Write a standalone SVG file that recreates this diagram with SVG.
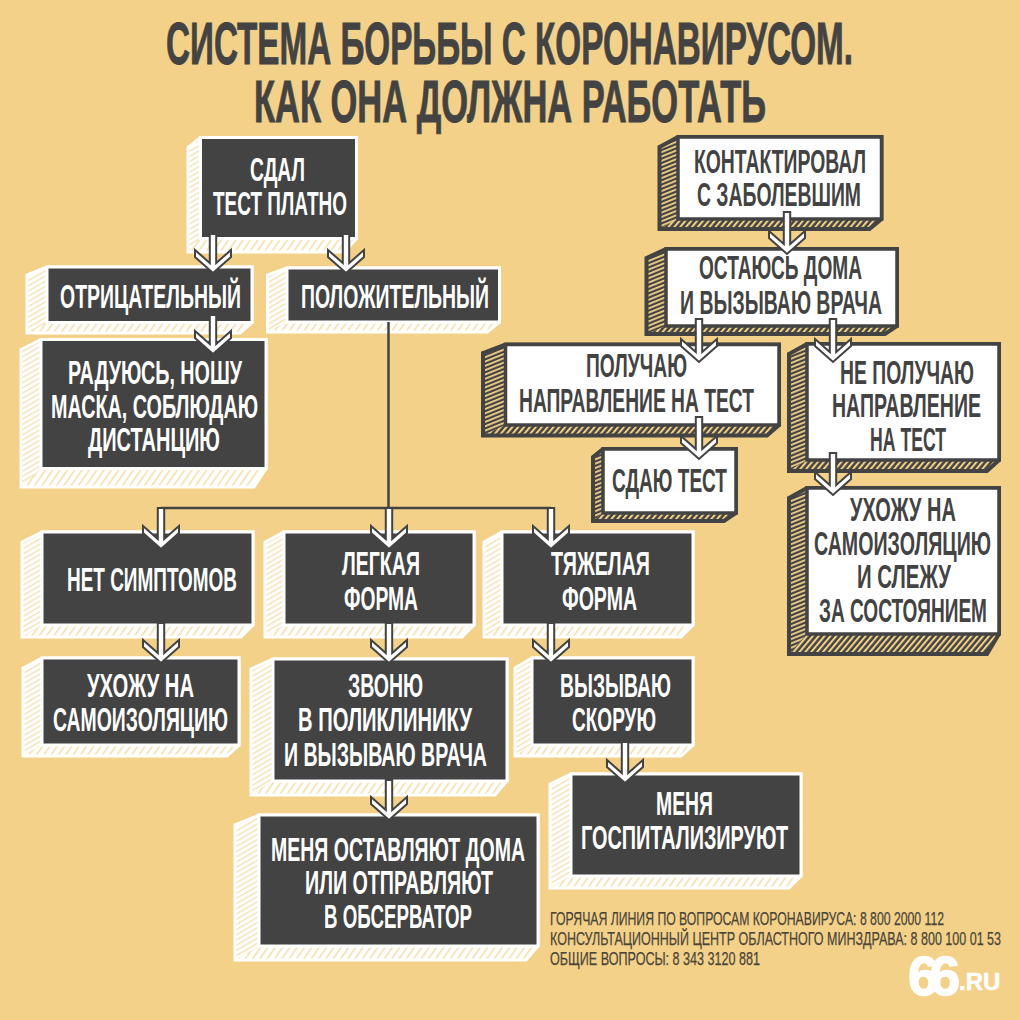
<svg xmlns="http://www.w3.org/2000/svg" width="1020" height="1020" viewBox="0 0 1020 1020">
<style>
text{font-family:"Liberation Sans Narrow","Liberation Sans",Arial,sans-serif;font-weight:700;font-size:33px}
.title{font-size:59px;fill:#434343;stroke:#434343;stroke-width:.9}
.foot{font-size:19px;font-weight:400;fill:#4a4538;stroke:#4a4538;stroke-width:.25}
.logo{font-size:55px;fill:#fff;stroke:#fff;stroke-width:1.5;letter-spacing:-9px;font-family:"Liberation Sans",Arial,sans-serif}
.logo2{font-size:24px;fill:#fff;stroke:#fff;stroke-width:.6;font-family:"Liberation Sans",Arial,sans-serif}
.dk .l{fill:url(#lw)}.dk .b{fill:url(#bw)}.dk .o{fill:none;stroke:#fff;stroke-width:3}
.dk rect{fill:#434343;stroke:#fff;stroke-width:3}.dk text{fill:#fff}
.wh .l{fill:url(#ld)}.wh .b{fill:url(#bd)}.wh .o{fill:none;stroke:#434343;stroke-width:4}
.wh rect{fill:#fff;stroke:#434343;stroke-width:3.5}.wh text{fill:#434343}
.ar{fill:#fff;stroke:#434343;stroke-width:2;stroke-linejoin:miter}
.ln{fill:none;stroke:#434343;stroke-width:2.5}
</style>
<defs>
<pattern id="ld" width="4" height="4" patternUnits="userSpaceOnUse" patternTransform="rotate(-22)"><rect width="4" height="4" fill="#434343"/><rect width="4" height="1.8" fill="#f3d189"/></pattern>
<pattern id="bd" width="4.5" height="4.5" patternUnits="userSpaceOnUse" patternTransform="rotate(-50)"><rect width="4.5" height="4.5" fill="#434343"/><rect width="4.5" height="2" fill="#f3d189"/></pattern>
<pattern id="lw" width="4.5" height="4.5" patternUnits="userSpaceOnUse" patternTransform="rotate(-30)"><rect width="4.5" height="4.5" fill="#fff"/><rect width="4.5" height="1.3" fill="#f6dfae"/></pattern>
<pattern id="bw" width="6" height="6" patternUnits="userSpaceOnUse" patternTransform="rotate(-55)"><rect width="6" height="6" fill="#fff"/><rect width="6" height="1.6" fill="#f6dfae"/></pattern>
</defs>
<rect width="1020" height="1020" fill="#f3d189"/>
<g id="title">
<text class="title" x="166" y="64" textLength="687" lengthAdjust="spacingAndGlyphs">СИСТЕМА БОРЬБЫ С КОРОНАВИРУСОМ.</text>
<text class="title" x="254" y="122" textLength="512" lengthAdjust="spacingAndGlyphs">КАК ОНА ДОЛЖНА РАБОТАТЬ</text>
</g>
<g id="n-paid" class="dk">
<polygon class="l" points="188,147.5 200.5,137.5 200.5,238.5 188,252"/><polygon class="b" points="188,252 200.5,238.5 356.5,238.5 344.5,252"/><polygon class="o" points="188,147.5 200.5,137.5 356.5,137.5 356.5,238.5 344.5,252 188,252"/>
<rect x="200.5" y="137.5" width="156" height="101"/>
<text x="250" y="181" textLength="55" lengthAdjust="spacingAndGlyphs">СДАЛ</text>
<text x="213" y="215" textLength="134" lengthAdjust="spacingAndGlyphs">ТЕСТ ПЛАТНО</text>
</g>
<g id="n-neg" class="dk">
<polygon class="l" points="27,275 47,267 47,322.5 27,333"/><polygon class="b" points="27,333 47,322.5 252,322.5 240,333"/><polygon class="o" points="27,275 47,267 252,267 252,322.5 240,333 27,333"/>
<rect x="47" y="267" width="205" height="55.5"/>
<text x="60" y="308" textLength="181" lengthAdjust="spacingAndGlyphs">ОТРИЦАТЕЛЬНЫЙ</text>
</g>
<g id="n-pos" class="dk">
<polygon class="l" points="267.5,275 287,268 287,322 267.5,332"/><polygon class="b" points="267.5,332 287,322 499.5,322 487.5,332"/><polygon class="o" points="267.5,275 287,268 499.5,268 499.5,322 487.5,332 267.5,332"/>
<rect x="287" y="268" width="212.5" height="54"/>
<text x="301" y="308" textLength="188" lengthAdjust="spacingAndGlyphs">ПОЛОЖИТЕЛЬНЫЙ</text>
</g>
<g id="n-happy" class="dk">
<polygon class="l" points="21,349.5 41,339.5 41,468.5 21,487"/><polygon class="b" points="21,487 41,468.5 266,468.5 254,487"/><polygon class="o" points="21,349.5 41,339.5 266,339.5 266,468.5 254,487 21,487"/>
<rect x="41" y="339.5" width="225" height="129"/>
<text x="68" y="384" textLength="174" lengthAdjust="spacingAndGlyphs">РАДУЮСЬ, НОШУ</text>
<text x="51" y="418" textLength="207" lengthAdjust="spacingAndGlyphs">МАСКА, СОБЛЮДАЮ</text>
<text x="88" y="451" textLength="132" lengthAdjust="spacingAndGlyphs">ДИСТАНЦИЮ</text>
</g>
<g id="n-nosym" class="dk">
<polygon class="l" points="22,542 42,532 42,625 22,637"/><polygon class="b" points="22,637 42,625 253,625 241,637"/><polygon class="o" points="22,542 42,532 253,532 253,625 241,637 22,637"/>
<rect x="42" y="532" width="211" height="93"/>
<text x="67" y="591" textLength="170" lengthAdjust="spacingAndGlyphs">НЕТ СИМПТОМОВ</text>
</g>
<g id="n-iso" class="dk">
<polygon class="l" points="23,668 42,658 42,745 23,756"/><polygon class="b" points="23,756 42,745 239,745 227,756"/><polygon class="o" points="23,668 42,658 239,658 239,745 227,756 23,756"/>
<rect x="42" y="658" width="197" height="87"/>
<text x="87" y="697" textLength="107" lengthAdjust="spacingAndGlyphs">УХОЖУ НА</text>
<text x="53" y="731" textLength="175" lengthAdjust="spacingAndGlyphs">САМОИЗОЛЯЦИЮ</text>
</g>
<g id="n-light" class="dk">
<polygon class="l" points="265,542 284,532 284,625 265,637"/><polygon class="b" points="265,637 284,625 474,625 462,637"/><polygon class="o" points="265,542 284,532 474,532 474,625 462,637 265,637"/>
<rect x="284" y="532" width="190" height="93"/>
<text x="342" y="575" textLength="78" lengthAdjust="spacingAndGlyphs">ЛЕГКАЯ</text>
<text x="344" y="610" textLength="74" lengthAdjust="spacingAndGlyphs">ФОРМА</text>
</g>
<g id="n-heavy" class="dk">
<polygon class="l" points="484,542 502,532 502,625 484,637"/><polygon class="b" points="484,637 502,625 693,625 681,637"/><polygon class="o" points="484,542 502,532 693,532 693,625 681,637 484,637"/>
<rect x="502" y="532" width="191" height="93"/>
<text x="551" y="575" textLength="99" lengthAdjust="spacingAndGlyphs">ТЯЖЕЛАЯ</text>
<text x="562" y="610" textLength="75" lengthAdjust="spacingAndGlyphs">ФОРМА</text>
</g>
<g id="n-call" class="dk">
<polygon class="l" points="251,669 273,659 273,781 251,795"/><polygon class="b" points="251,795 273,781 507,781 495,795"/><polygon class="o" points="251,669 273,659 507,659 507,781 495,795 251,795"/>
<rect x="273" y="659" width="234" height="122"/>
<text x="348" y="697" textLength="75" lengthAdjust="spacingAndGlyphs">ЗВОНЮ</text>
<text x="298" y="731" textLength="174" lengthAdjust="spacingAndGlyphs">В ПОЛИКЛИНИКУ</text>
<text x="284" y="766" textLength="203" lengthAdjust="spacingAndGlyphs">И ВЫЗЫВАЮ ВРАЧА</text>
</g>
<g id="n-amb" class="dk">
<polygon class="l" points="515,668 532,658 532,745 515,756"/><polygon class="b" points="515,756 532,745 693,745 681,756"/><polygon class="o" points="515,668 532,658 693,658 693,745 681,756 515,756"/>
<rect x="532" y="658" width="161" height="87"/>
<text x="560" y="697" textLength="111" lengthAdjust="spacingAndGlyphs">ВЫЗЫВАЮ</text>
<text x="572" y="731" textLength="84" lengthAdjust="spacingAndGlyphs">СКОРУЮ</text>
</g>
<g id="n-home" class="dk">
<polygon class="l" points="235,825 259,815 259,946 235,960"/><polygon class="b" points="235,960 259,946 538,946 526,960"/><polygon class="o" points="235,825 259,815 538,815 538,946 526,960 235,960"/>
<rect x="259" y="815" width="279" height="131"/>
<text x="271" y="861" textLength="254" lengthAdjust="spacingAndGlyphs">МЕНЯ ОСТАВЛЯЮТ ДОМА</text>
<text x="305" y="894" textLength="188" lengthAdjust="spacingAndGlyphs">ИЛИ ОТПРАВЛЯЮТ</text>
<text x="324" y="928" textLength="148" lengthAdjust="spacingAndGlyphs">В ОБСЕРВАТОР</text>
</g>
<g id="n-hosp" class="dk">
<polygon class="l" points="550,784 571,774 571,876 550,888"/><polygon class="b" points="550,888 571,876 801,876 789,888"/><polygon class="o" points="550,784 571,774 801,774 801,876 789,888 550,888"/>
<rect x="571" y="774" width="230" height="102"/>
<text x="656" y="815" textLength="57" lengthAdjust="spacingAndGlyphs">МЕНЯ</text>
<text x="581" y="849" textLength="207" lengthAdjust="spacingAndGlyphs">ГОСПИТАЛИЗИРУЮТ</text>
</g>
<g id="n-contact" class="wh">
<polygon class="l" points="659.5,147 678,137 678,219 659.5,229"/><polygon class="b" points="659.5,229 678,219 881.5,219 869.5,229"/><polygon class="o" points="659.5,147 678,137 881.5,137 881.5,219 869.5,229 659.5,229"/>
<rect x="678" y="137" width="203.5" height="82"/>
<text x="694" y="173" textLength="172" lengthAdjust="spacingAndGlyphs">КОНТАКТИРОВАЛ</text>
<text x="697" y="206" textLength="164" lengthAdjust="spacingAndGlyphs">С ЗАБОЛЕВШИМ</text>
</g>
<g id="n-stay" class="wh">
<polygon class="l" points="646.5,258 666,249 666,326 646.5,334"/><polygon class="b" points="646.5,334 666,326 897,326 885,334"/><polygon class="o" points="646.5,258 666,249 897,249 897,326 885,334 646.5,334"/>
<rect x="666" y="249" width="231" height="77"/>
<text x="699" y="279" textLength="163" lengthAdjust="spacingAndGlyphs">ОСТАЮСЬ ДОМА</text>
<text x="680" y="314" textLength="202" lengthAdjust="spacingAndGlyphs">И ВЫЗЫВАЮ ВРАЧА</text>
</g>
<g id="n-ref" class="wh">
<polygon class="l" points="483,353 505.5,344.5 505.5,425 483,435.5"/><polygon class="b" points="483,435.5 505.5,425 779,425 767,435.5"/><polygon class="o" points="483,353 505.5,344.5 779,344.5 779,425 767,435.5 483,435.5"/>
<rect x="505.5" y="344.5" width="273.5" height="80.5"/>
<text x="586" y="377" textLength="101" lengthAdjust="spacingAndGlyphs">ПОЛУЧАЮ</text>
<text x="519" y="412" textLength="235" lengthAdjust="spacingAndGlyphs">НАПРАВЛЕНИЕ НА ТЕСТ</text>
</g>
<g id="n-test" class="wh">
<polygon class="l" points="593,457 603,449 603,513 593,521"/><polygon class="b" points="593,521 603,513 736,513 724,521"/><polygon class="o" points="593,457 603,449 736,449 736,513 724,521 593,521"/>
<rect x="603" y="449" width="133" height="64"/>
<text x="612" y="492" textLength="115" lengthAdjust="spacingAndGlyphs">СДАЮ ТЕСТ</text>
</g>
<g id="n-noref" class="wh">
<polygon class="l" points="789,354 807,344 807,460 789,471"/><polygon class="b" points="789,471 807,460 999,460 987,471"/><polygon class="o" points="789,354 807,344 999,344 999,460 987,471 789,471"/>
<rect x="807" y="344" width="192" height="116"/>
<text x="840" y="384" textLength="134" lengthAdjust="spacingAndGlyphs">НЕ ПОЛУЧАЮ</text>
<text x="832" y="417" textLength="149" lengthAdjust="spacingAndGlyphs">НАПРАВЛЕНИЕ</text>
<text x="870" y="451" textLength="76" lengthAdjust="spacingAndGlyphs">НА ТЕСТ</text>
</g>
<g id="n-self" class="wh">
<polygon class="l" points="789,498 807,488 807,634 789,654"/><polygon class="b" points="789,654 807,634 999,634 987,654"/><polygon class="o" points="789,498 807,488 999,488 999,634 987,654 789,654"/>
<rect x="807" y="488" width="192" height="146"/>
<text x="850" y="521" textLength="106" lengthAdjust="spacingAndGlyphs">УХОЖУ НА</text>
<text x="814" y="555" textLength="177" lengthAdjust="spacingAndGlyphs">САМОИЗОЛЯЦИЮ</text>
<text x="857" y="588" textLength="94" lengthAdjust="spacingAndGlyphs">И СЛЕЖУ</text>
<text x="819" y="622" textLength="168" lengthAdjust="spacingAndGlyphs">ЗА СОСТОЯНИЕМ</text>
</g>
<g id="connectors">
<path class="ln" d="M388.5 322V508M161 508H551"/>
<polygon class="ar" transform="translate(213,273)" points="-3.2,-39 -3.2,-10 -18,-23 -18,-16 0,0 18,-16 18,-23 3.2,-10 3.2,-39"/>
<polygon class="ar" transform="translate(346,273)" points="-3.2,-39 -3.2,-10 -18,-23 -18,-16 0,0 18,-16 18,-23 3.2,-10 3.2,-39"/>
<polygon class="ar" transform="translate(213,354)" points="-3.2,-39 -3.2,-10 -18,-23 -18,-16 0,0 18,-16 18,-23 3.2,-10 3.2,-39"/>
<polygon class="ar" transform="translate(161,549)" points="-3.2,-41 -3.2,-10 -18,-23 -18,-16 0,0 18,-16 18,-23 3.2,-10 3.2,-41"/>
<polygon class="ar" transform="translate(389,549)" points="-3.2,-41 -3.2,-10 -18,-23 -18,-16 0,0 18,-16 18,-23 3.2,-10 3.2,-41"/>
<polygon class="ar" transform="translate(551,549)" points="-3.2,-41 -3.2,-10 -18,-23 -18,-16 0,0 18,-16 18,-23 3.2,-10 3.2,-41"/>
<polygon class="ar" transform="translate(161,663)" points="-3.2,-40 -3.2,-10 -18,-23 -18,-16 0,0 18,-16 18,-23 3.2,-10 3.2,-40"/>
<polygon class="ar" transform="translate(389,663)" points="-3.2,-40 -3.2,-10 -18,-23 -18,-16 0,0 18,-16 18,-23 3.2,-10 3.2,-40"/>
<polygon class="ar" transform="translate(551,663)" points="-3.2,-40 -3.2,-10 -18,-23 -18,-16 0,0 18,-16 18,-23 3.2,-10 3.2,-40"/>
<polygon class="ar" transform="translate(389,820)" points="-3.2,-40 -3.2,-10 -18,-23 -18,-16 0,0 18,-16 18,-23 3.2,-10 3.2,-40"/>
<polygon class="ar" transform="translate(625,783)" points="-3.2,-41 -3.2,-10 -18,-23 -18,-16 0,0 18,-16 18,-23 3.2,-10 3.2,-41"/>
<polygon class="ar" transform="translate(787,254)" points="-3.2,-42 -3.2,-10 -18,-23 -18,-16 0,0 18,-16 18,-23 3.2,-10 3.2,-42"/>
<polygon class="ar" transform="translate(699,362)" points="-3.2,-43 -3.2,-10 -18,-23 -18,-16 0,0 18,-16 18,-23 3.2,-10 3.2,-43"/>
<polygon class="ar" transform="translate(833,362)" points="-3.2,-43 -3.2,-10 -18,-23 -18,-16 0,0 18,-16 18,-23 3.2,-10 3.2,-43"/>
<polygon class="ar" transform="translate(699,459)" points="-3.2,-42 -3.2,-10 -18,-23 -18,-16 0,0 18,-16 18,-23 3.2,-10 3.2,-42"/>
<polygon class="ar" transform="translate(833,495)" points="-3.2,-42 -3.2,-10 -18,-23 -18,-16 0,0 18,-16 18,-23 3.2,-10 3.2,-42"/>
</g>
<g id="footer">
<text class="foot" x="550" y="925" textLength="394" lengthAdjust="spacingAndGlyphs">ГОРЯЧАЯ ЛИНИЯ ПО ВОПРОСАМ КОРОНАВИРУСА: 8 800 2000 112</text>
<text class="foot" x="550" y="945" textLength="451" lengthAdjust="spacingAndGlyphs">КОНСУЛЬТАЦИОННЫЙ ЦЕНТР ОБЛАСТНОГО МИНЗДРАВА: 8 800 100 01 53</text>
<text class="foot" x="550" y="965" textLength="210" lengthAdjust="spacingAndGlyphs">ОБЩИЕ ВОПРОСЫ: 8 343 3120 881</text>
</g>
<g id="logo">
<text class="logo" x="908" y="995">66</text>
<text class="logo2" x="959" y="990">.RU</text>
</g>
</svg>
